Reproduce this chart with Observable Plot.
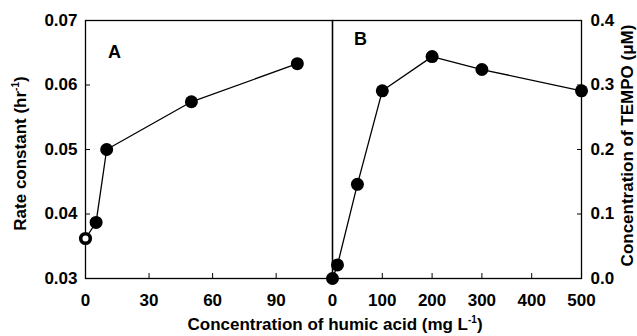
<!DOCTYPE html>
<html><head><meta charset="utf-8">
<script src="https://cdn.jsdelivr.net/npm/d3@7"></script>
<script src="https://cdn.jsdelivr.net/npm/@observablehq/plot@0.6"></script>
<style>
body{margin:0;background:#fff;}
#c{position:relative;width:637px;height:336px;font-family:"Liberation Sans",Arial,sans-serif;font-weight:bold;color:#000;}
#c svg{position:absolute;top:0;overflow:visible;}
.t{position:absolute;font-size:17px;font-weight:bold;white-space:nowrap;line-height:1;}
.t sup{font-size:10px;vertical-align:7px;line-height:0;}
</style></head><body><div id="c"></div>
<script>
const humicA = [0, 5, 10, 50, 100];
const rateA = [0.0362, 0.0387, 0.0500, 0.0574, 0.0633];
const humicB = [0, 10, 50, 100, 200, 300, 500];
const tempoB = [0.0, 0.021, 0.146, 0.291, 0.344, 0.324, 0.291];
const ticksAx = [0, 30, 60, 90];
const ticksAy = [0.03, 0.04, 0.05, 0.06, 0.07];
const ticksBx = [0, 100, 200, 300, 400, 500];
const ticksBy = [0.0, 0.1, 0.2, 0.3, 0.4];

const dataA = humicA.map((x, i) => ({x, y: rateA[i]}));
const dataB = humicB.map((x, i) => ({x, y: tempoB[i]}));

const style = {fontFamily: '"Liberation Sans", Arial, sans-serif', fontSize: "17px", fontWeight: "bold", background: "transparent", overflow: "visible"};

const plotA = Plot.plot({
  width: 332, height: 336,
  marginLeft: 85, marginRight: 0, marginTop: 20, marginBottom: 58,
  style,
  x: {domain: [0, 116.6]},
  y: {domain: [0.03, 0.07]},
  marks: [
    Plot.frame({stroke: "black", strokeWidth: 1.3}),
    Plot.axisX({ticks: ticksAx, tickFormat: d3.format("d"), tickSize: -5, tickPadding: 20, label: null}),
    Plot.axisY({ticks: ticksAy, tickFormat: d3.format(".2f"), tickSize: -5, tickPadding: 13, label: null}),
    Plot.line(dataA, {x: "x", y: "y", stroke: "black", strokeWidth: 1.3}),
    Plot.dot(dataA.slice(0, 1), {x: "x", y: "y", r: 4.8, fill: "white", stroke: "black", strokeWidth: 3.6}),
    Plot.dot(dataA.slice(1), {x: "x", y: "y", r: 6.5, fill: "black", stroke: "none"}),
    Plot.text(["A"], {frameAnchor: "top-left", dx: 29, dy: 32, textAnchor: "middle", lineAnchor: "middle", fontSize: 18, fontWeight: "bold"})
  ]
});

const plotB = Plot.plot({
  width: 305, height: 336,
  marginLeft: 0, marginRight: 56, marginTop: 20, marginBottom: 58,
  style,
  x: {domain: [0, 500]},
  y: {domain: [0, 0.4]},
  marks: [
    Plot.frame({stroke: "black", strokeWidth: 1.3}),
    Plot.axisX({ticks: ticksBx, tickFormat: d3.format("d"), tickSize: -5, tickPadding: 20, label: null}),
    Plot.axisY({anchor: "right", ticks: ticksBy, tickFormat: d3.format(".1f"), tickSize: -5, tickPadding: 14, label: null}),
    Plot.line(dataB, {x: "x", y: "y", stroke: "black", strokeWidth: 1.3}),
    Plot.dot(dataB, {x: "x", y: "y", r: 6.5, fill: "black", stroke: "none"}),
    Plot.text(["B"], {frameAnchor: "top-left", dx: 28, dy: 19, textAnchor: "middle", lineAnchor: "middle", fontSize: 18, fontWeight: "bold"})
  ]
});

const c = document.getElementById("c");
plotA.style.left = "0px";
plotB.style.left = "332px";
c.appendChild(plotA);
c.appendChild(plotB);

function addTitle(html, cx, cy, rotate) {
  const d = document.createElement("div");
  d.className = "t";
  d.innerHTML = html;
  c.appendChild(d);
  const w = d.offsetWidth, h = d.offsetHeight;
  d.style.left = (cx - w / 2) + "px";
  d.style.top = (cy - h / 2) + "px";
  if (rotate) d.style.transform = "rotate(-90deg)";
}
addTitle("Concentration of humic acid (mg L<sup>-1</sup>)", 335, 324, false);
addTitle("Rate constant (hr<sup>-1</sup>)", 20, 153, true);
addTitle("Concentration of TEMPO (\u03bcM)", 628, 145, true);
</script></body></html>
